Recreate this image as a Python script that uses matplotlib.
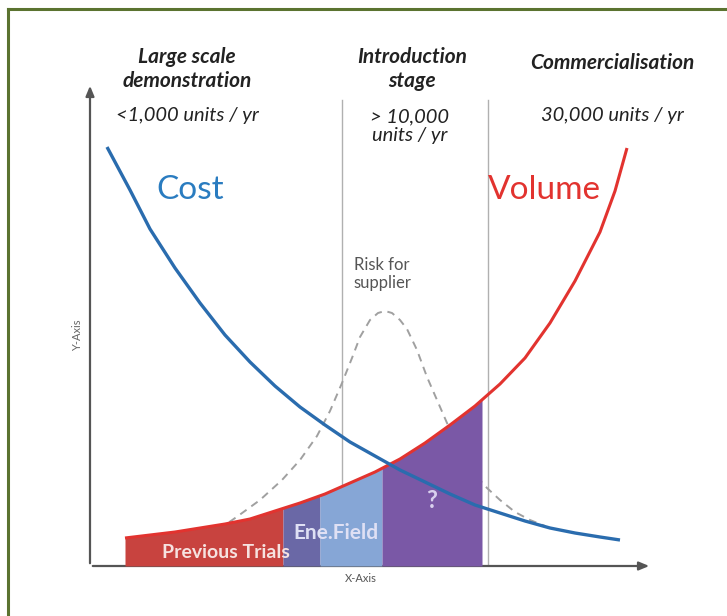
import numpy as np
import matplotlib
matplotlib.use("Agg")
import matplotlib.pyplot as plt
from matplotlib.lines import Line2D

plt.rcParams['font.family'] = ['Lato', 'DejaVu Sans']

# ---- data (arbitrary units) ----
cost_x = [17, 40, 60, 85, 110, 135, 160, 185, 210, 235, 260, 285, 310, 335, 360, 385, 410, 435, 460, 485, 510, 530]
cost_y = [419, 376, 337, 298, 263, 231, 204, 180, 159, 141, 124, 110, 96, 84, 72, 61, 53, 45, 38, 33, 29, 26]

volume_x = [35, 60, 85, 110, 135, 160, 185, 210, 235, 260, 285, 310, 335, 360, 385, 410, 435, 460, 485, 510, 525, 537]
volume_y = [28, 31, 34, 38, 42, 47, 55, 63, 72, 83, 94, 107, 123, 141, 160, 182, 208, 243, 285, 334, 375, 418]

risk_x = [128, 148, 170, 192, 210, 227, 240, 252, 262, 270, 280, 288, 295,
          302, 310, 317, 327, 337, 347, 357, 372, 387, 397, 410, 425, 440, 455]
risk_y = [36, 50, 66, 86, 106, 130, 155, 183, 208, 229, 246, 253, 255,
          253, 246, 237, 216, 189, 166, 143, 114, 89, 78, 66, 54, 46, 40]

segment_bounds = [35, 193, 230, 292, 392]
segment_labels = ["Previous Trials", "", "Ene.Field", "?"]
segment_colors = ["#c8433f", "#6a68a6", "#86a6d6", "#7a58a6"]

stage_lines_x = [252, 398]
stage_titles = ["Large scale\ndemonstration", "Introduction\nstage", "Commercialisation"]
stage_volumes = ["<1,000 units / yr", "> 10,000\nunits / yr", "30,000 units / yr"]

# ---- figure ----
W, H = 727, 616
fig = plt.figure(figsize=(W / 100, H / 100), dpi=100, facecolor="white")
ax = fig.add_axes([90 / W, 50 / H, 560 / W, 481 / H])
ax.set_xlim(0, 560)
ax.set_ylim(0, 481)
ax.axis("off")

# frame border (top and left, olive green)
fig.add_artist(Line2D([8 / W, 1.0], [1 - 9 / H, 1 - 9 / H], transform=fig.transFigure,
                      color="#5b7330", lw=2.2))
fig.add_artist(Line2D([8 / W, 8 / W], [1 - 9 / H, 0], transform=fig.transFigure,
                      color="#5b7330", lw=2.2))

# axes arrows
ax.annotate("", xy=(562, 0), xytext=(0, 0),
            arrowprops=dict(arrowstyle="-|>,head_length=0.6,head_width=0.25", color="#555555", lw=1.6),
            annotation_clip=False)
ax.annotate("", xy=(0, 483), xytext=(0, 0),
            arrowprops=dict(arrowstyle="-|>,head_length=0.6,head_width=0.25", color="#555555", lw=1.6),
            annotation_clip=False)

# stage separators
for sx in stage_lines_x:
    ax.plot([sx, sx], [0, 466], color="#b0b0b0", lw=1.0, zorder=1)

# risk curve (dashed)
ax.plot(risk_x, risk_y, color="#a0a0a0", lw=1.4, ls=(0, (4, 3)), zorder=2)

# filled segments under volume curve
vx = np.array(volume_x, float)
vy = np.array(volume_y, float)
for i in range(len(segment_bounds) - 1):
    lo, hi = segment_bounds[i], segment_bounds[i + 1]
    inside = (vx > lo) & (vx < hi)
    xs = np.concatenate([[lo], vx[inside], [hi]])
    ys = np.interp(xs, vx, vy)
    ax.fill_between(xs, 0, ys, color=segment_colors[i], lw=0, zorder=3)

# curves
ax.plot(volume_x, volume_y, color="#e2332f", lw=2.2, zorder=4, solid_capstyle="butt")
ax.plot(cost_x, cost_y, color="#2a6cae", lw=2.4, zorder=5, solid_capstyle="butt")

# segment labels
ax.text(136, 14, segment_labels[0], color="#f6e2e0", fontsize=14, fontweight="bold",
        ha="center", va="center", zorder=6)
ax.text(246, 33, segment_labels[2], color="#dfe0f4", fontsize=15, fontweight="bold",
        ha="center", va="center", zorder=6)
ax.text(342, 66, segment_labels[3], color="#d9d0ee", fontsize=17, fontweight="bold",
        ha="center", va="center", zorder=6)

# big labels
ax.text(100, 376, "Cost", color="#2a7cc0", fontsize=24, ha="center", va="center")
ax.text(454, 376, "Volume", color="#e2332f", fontsize=24, ha="center", va="center")
ax.text(292, 292, "Risk for\nsupplier", color="#555555", fontsize=12, ha="center", va="center",
        linespacing=1.2)

# stage headers
hdr = dict(fontsize=15, fontweight="bold", fontstyle="italic", color="#222222",
           ha="center", va="center", linespacing=1.2, clip_on=False)
ax.text(97, 497, stage_titles[0], **hdr)
ax.text(322, 497, stage_titles[1], **hdr)
ax.text(522, 503, stage_titles[2], **hdr)

vol = dict(fontsize=14.5, fontstyle="italic", color="#222222", ha="center", va="center",
           linespacing=1.1, clip_on=False)
ax.text(97, 450, stage_volumes[0], **vol)
ax.text(320, 440, stage_volumes[1], **vol)
ax.text(522, 450, stage_volumes[2], **vol)

# axis names
ax.text(-12, 231, "Y-Axis", rotation=90, fontsize=8, color="#666666", ha="center", va="center")
ax.text(271, -13, "X-Axis", fontsize=8, color="#555555", ha="center", va="center")

fig.savefig("out.png", dpi=100, facecolor="white")
